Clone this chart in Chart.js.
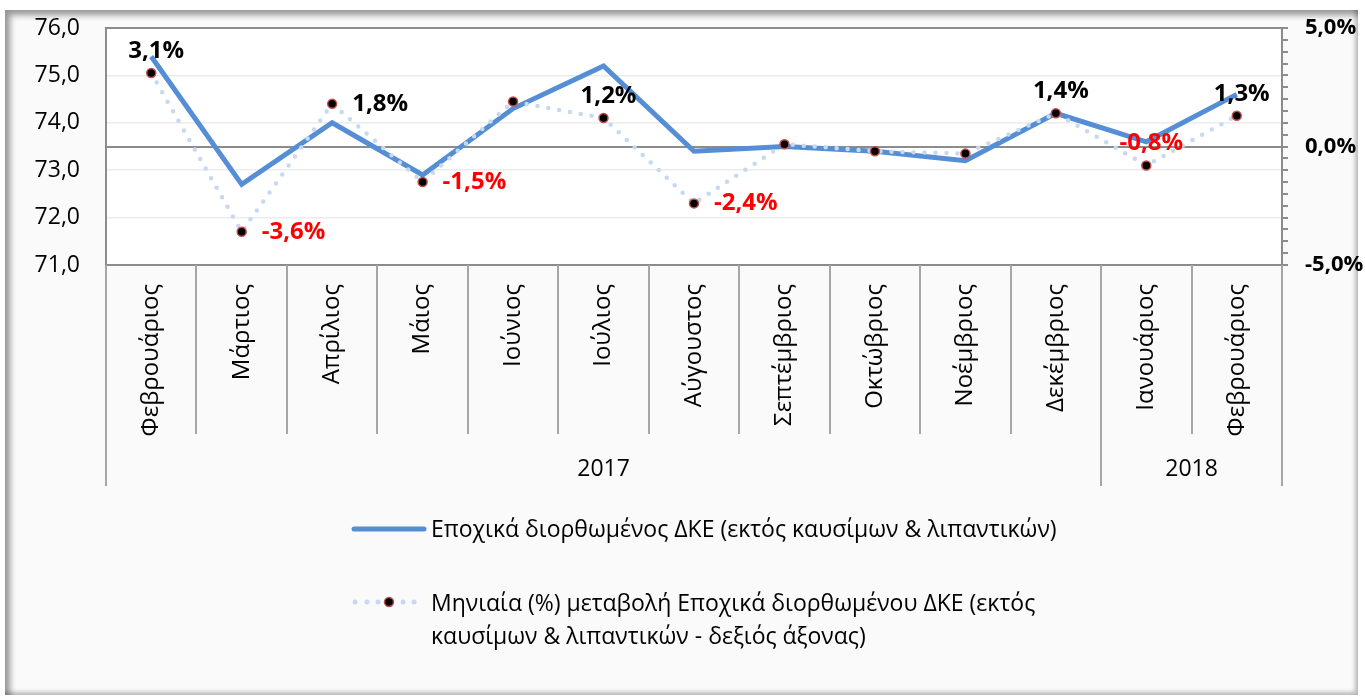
<!DOCTYPE html>
<html>
<head>
<meta charset="utf-8">
<script src="https://cdn.jsdelivr.net/npm/chart.js@4.4.1/dist/chart.umd.min.js"></script>
<style>
  body { margin: 0; background: #fff; font-family: "Open Sans", sans-serif; }
  #frame {
    position: absolute; left: 5px; top: 10px; width: 1353px; height: 685px;
    background: #fafafa;
    box-shadow: inset 5px 5px 6px rgba(0,0,0,0.4), inset -3px -3px 4px rgba(0,0,0,0.25);
  }
  #chart { position: absolute; left: 0; top: 0; }
  .legend-text { position: absolute; left: 431px; font-size: 23px; line-height: 33px; color: #000; white-space: nowrap; }
  .legend-mark { position: absolute; left: 348px; }
</style>
</head>
<body>
<div id="frame"></div>
<canvas id="chart" width="1365" height="699"></canvas>

<svg class="legend-mark" style="top:520px" width="82" height="20">
  <line x1="6" y1="9" x2="76" y2="9" stroke="#558ED5" stroke-width="5" stroke-linecap="round"/>
</svg>
<div class="legend-text" style="top:512px">Εποχικά διορθωμένος ΔΚΕ (εκτός καυσίμων &amp; λιπαντικών)</div>

<svg class="legend-mark" style="top:592px" width="82" height="20">
  <circle cx="7" cy="10" r="2.5" fill="#c6d9f1"/>
  <circle cx="19" cy="10" r="2.5" fill="#c6d9f1"/>
  <circle cx="30" cy="10" r="2.5" fill="#c6d9f1"/>
  <circle cx="55" cy="10" r="2.5" fill="#c6d9f1"/>
  <circle cx="66" cy="10" r="2.5" fill="#c6d9f1"/>
  <circle cx="41" cy="10" r="4.5" fill="#000" stroke="#c0504d" stroke-width="1.5"/>
</svg>
<div class="legend-text" style="top:586px">Μηνιαία (%) μεταβολή Εποχικά διορθωμένου ΔΚΕ (εκτός<br>καυσίμων &amp; λιπαντικών - δεξιός άξονας)</div>

<script>
const months = ['Φεβρουάριος', 'Μάρτιος', 'Απρίλιος', 'Μάιος', 'Ιούνιος', 'Ιούλιος', 'Αύγουστος',
  'Σεπτέμβριος', 'Οκτώβριος', 'Νοέμβριος', 'Δεκέμβριος', 'Ιανουάριος', 'Φεβρουάριος'];
const years = ['2017', '2018'];
const yearSpans = [11, 2];

// seasonally adjusted index (left axis)
const indexValues = [75.4, 72.7, 74.0, 72.9, 74.3, 75.2, 73.4, 73.5, 73.4, 73.2, 74.2, 73.6, 74.6];
// monthly % change (right axis)
const monthlyChange = [3.1, -3.6, 1.8, -1.5, 1.9, 1.2, -2.4, 0.1, -0.2, -0.3, 1.4, -0.8, 1.3];
// where each % label sits ('' = no label)
const labelPos = ['top', 'right', 'right', 'right', '', 'top', 'right', '', '', '', 'top', 'top', 'top'];

const leftRange = [71, 76];
const rightRange = [-5, 5];

const FONT = 'Open Sans';
const fmt = v => v.toFixed(1).replace('.', ',');

// white plot area + border, category separators, year row
const tablePlugin = {
  id: 'tableLines',
  beforeDraw(chart) {
    const { ctx, chartArea: a } = chart;
    ctx.save();
    ctx.fillStyle = '#fff';
    ctx.fillRect(a.left, a.top, a.width, a.height);
    ctx.restore();
  },
  beforeDatasetsDraw(chart) {
    const { ctx, chartArea: a, scales } = chart;
    const x = scales.x;
    const step = a.width / months.length;
    ctx.save();
    ctx.strokeStyle = '#8c8c8c';
    ctx.lineWidth = 2;
    ctx.strokeRect(a.left, a.top, a.width, a.height);

    ctx.strokeStyle = '#a6a6a6';
    const yearEdges = [0];
    yearSpans.reduce((s, n) => { yearEdges.push(s + n); return s + n; }, 0);
    for (let i = 0; i <= months.length; i++) {
      const px = Math.round(x.getPixelForValue(i) - step / 2);
      const end = yearEdges.includes(i) ? 486 : 434;
      ctx.beginPath();
      ctx.moveTo(px, a.bottom);
      ctx.lineTo(px, end);
      ctx.stroke();
    }

    ctx.fillStyle = '#000';
    ctx.font = `23px "${FONT}"`;
    ctx.textAlign = 'center';
    ctx.textBaseline = 'middle';
    years.forEach((yr, i) => {
      const from = x.getPixelForValue(yearEdges[i]) - step / 2;
      const to = x.getPixelForValue(yearEdges[i + 1] - 1) + step / 2;
      ctx.fillText(yr, (from + to) / 2, 469);
    });
    ctx.restore();
  }
};

// percentage labels next to the markers
const pctLabels = {
  id: 'pctLabels',
  afterDatasetsDraw(chart) {
    const { ctx } = chart;
    const meta = chart.getDatasetMeta(1);
    ctx.save();
    ctx.font = `bold 24px "${FONT}"`;
    ctx.textBaseline = 'middle';
    meta.data.forEach((pt, i) => {
      const pos = labelPos[i];
      if (!pos) return;
      const v = monthlyChange[i];
      ctx.fillStyle = v < 0 ? '#ff0000' : '#000';
      const txt = fmt(v) + '%';
      if (pos === 'top') {
        ctx.textAlign = 'center';
        ctx.fillText(txt, pt.x + 5, pt.y - 22);
      } else {
        ctx.textAlign = 'left';
        ctx.fillText(txt, pt.x + 20, pt.y);
      }
    });
    ctx.restore();
  }
};

new Chart(document.getElementById('chart'), {
  type: 'line',
  data: {
    labels: months,
    datasets: [
      {
        label: 'Εποχικά διορθωμένος ΔΚΕ (εκτός καυσίμων & λιπαντικών)',
        data: indexValues,
        yAxisID: 'y',
        borderColor: '#558ED5',
        borderWidth: 5,
        pointRadius: 0,
        tension: 0,
        order: 1
      },
      {
        label: 'Μηνιαία (%) μεταβολή Εποχικά διορθωμένου ΔΚΕ (εκτός καυσίμων & λιπαντικών - δεξιός άξονας)',
        data: monthlyChange,
        yAxisID: 'yRight',
        borderColor: '#c6d9f1',
        borderWidth: 4.5,
        borderDash: [0, 11],
        borderCapStyle: 'round',
        pointRadius: 4.5,
        pointBackgroundColor: '#000',
        pointBorderColor: '#c0504d',
        pointBorderWidth: 1.5,
        tension: 0,
        order: 0
      }
    ]
  },
  options: {
    responsive: false,
    animation: false,
    devicePixelRatio: 1,
    layout: { padding: { top: 28, left: 0, right: 0, bottom: 0 } },
    plugins: {
      legend: { display: false },
      tooltip: { enabled: false }
    },
    scales: {
      x: {
        offset: true,
        grid: { display: false },
        border: { display: false },
        ticks: {
          minRotation: 90,
          maxRotation: 90,
          autoSkip: false,
          padding: 11,
          color: '#000',
          font: { family: FONT, size: 24 }
        },
        afterFit: s => { s.height = 434; }
      },
      y: {
        position: 'left',
        min: leftRange[0],
        max: leftRange[1],
        border: { display: false },
        grid: {
          drawTicks: false,
          lineWidth: 1.5,
          color: c => (c.tick.value > leftRange[0] && c.tick.value < leftRange[1]) ? '#ececec' : 'transparent'
        },
        ticks: {
          stepSize: 1,
          padding: 26,
          color: '#000',
          font: { family: FONT, size: 23 },
          callback: v => fmt(v)
        },
        afterFit: s => { s.width = 106; s.paddingTop = 0; s.paddingBottom = 0; }
      },
      yRight: {
        position: 'right',
        min: rightRange[0],
        max: rightRange[1],
        border: { display: false },
        grid: {
          tickLength: 6,
          tickColor: '#8c8c8c',
          tickWidth: 2,
          lineWidth: 2,
          color: c => Math.abs(c.tick.value) < 1e-6 ? '#8c8c8c' : 'transparent'
        },
        ticks: {
          stepSize: 0.5,
          autoSkip: false,
          padding: 17,
          color: '#000',
          font: { family: FONT, size: 22, weight: 'bold' },
          callback: v => Math.abs(v % 5) < 1e-6 ? fmt(v) + '%' : ''
        },
        afterFit: s => { s.width = 1365 - 1282; s.paddingTop = 0; s.paddingBottom = 0; }
      }
    }
  },
  plugins: [tablePlugin, pctLabels]
});
</script>
</body>
</html>
